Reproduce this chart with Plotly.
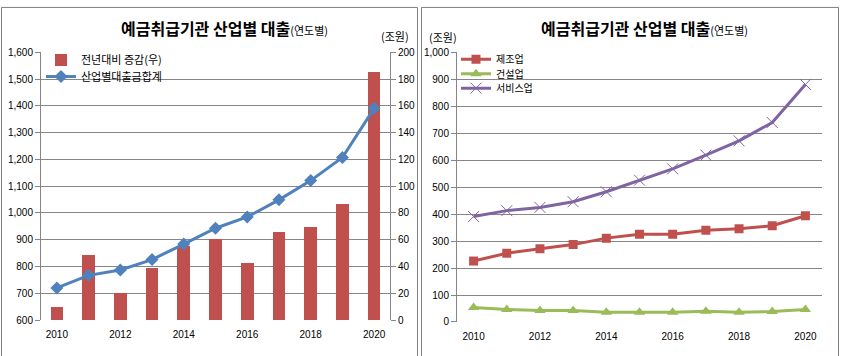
import plotly.graph_objects as go

years = list(range(2010, 2021))
xlabels = ["2010", "2012", "2014", "2016", "2018", "2020"]
xlabel_vals = [2010, 2012, 2014, 2016, 2018, 2020]

# left panel
change_yoy = [9.5, 48, 20, 38.6, 55, 60, 42, 65.8, 69.4, 86.2, 185.4]      # 전년대비 증감(우), 조원
total_loans = [720, 767, 787, 826, 884, 943, 985, 1049, 1121, 1207, 1391]  # 산업별대출금합계, 조원

# right panel
manufacturing = [226, 255, 272, 287, 311, 325, 325, 340, 346, 357, 394]
construction = [54, 46, 43, 43, 36, 36, 36, 40, 36, 39, 46]
services = [391, 413, 425, 446, 483, 526, 568, 619, 672, 740, 881]

W, H = 841, 356
GRID = "#868686"
FONT = "Liberation Sans, Noto Sans CJK KR, sans-serif"
KFONT = "Noto Sans CJK KR, sans-serif"

def px(x):
    return x / W

def py(y):
    return (H - y) / H

boundaries = [y - 0.5 for y in years] + [years[-1] + 0.5]

fig = go.Figure()

fig.add_trace(go.Bar(
    x=years, y=change_yoy, name="전년대비 증감(우)", xaxis="x", yaxis="y",
    marker=dict(color="#C0504D", line=dict(width=0)), width=0.4, legend="legend"))
fig.add_trace(go.Scatter(
    x=years, y=total_loans, name="산업별대출금합계", xaxis="x", yaxis="y2",
    mode="lines+markers", line=dict(color="#4F81BD", width=3),
    marker=dict(symbol="diamond", size=10, color="#4F81BD"), legend="legend2"))

fig.add_trace(go.Scatter(
    x=years, y=manufacturing, name="제조업", xaxis="x2", yaxis="y3",
    mode="lines+markers", line=dict(color="#C0504D", width=3),
    marker=dict(symbol="square", size=9, color="#C0504D"), legend="legend3"))
fig.add_trace(go.Scatter(
    x=years, y=construction, name="건설업", xaxis="x2", yaxis="y3",
    mode="lines+markers", line=dict(color="#9BBB59", width=3),
    marker=dict(symbol="triangle-up", size=10, color="#9BBB59"), legend="legend4"))
fig.add_trace(go.Scatter(
    x=years, y=services, name="서비스업", xaxis="x2", yaxis="y3",
    mode="lines+markers", line=dict(color="#8064A2", width=3),
    marker=dict(symbol="x-thin-open", size=11, color="#8064A2",
                line=dict(width=1, color="#8064A2")), legend="legend5"))

xcommon = dict(range=[2009.5, 2020.5], showgrid=False, zeroline=False,
               fixedrange=True)
label_axis = dict(tickvals=xlabel_vals, ticktext=xlabels, ticks="outside",
                  ticklen=5, tickcolor="rgba(0,0,0,0)", showline=False,
                  tickfont=dict(family=FONT, size=10, color="#000"))
bound_axis = dict(tickvals=boundaries, ticks="outside", ticklen=5,
                  tickcolor=GRID, showticklabels=False, showline=True,
                  linecolor=GRID, linewidth=1)

ycommon = dict(showline=True, linecolor=GRID, linewidth=1, ticks="outside",
               ticklen=5, tickcolor=GRID, zeroline=False, fixedrange=True,
               tickfont=dict(family=FONT, size=10, color="#000"))

def legend_at(x, y, size):
    return dict(x=px(x), y=py(y), xanchor="left", yanchor="middle",
                bgcolor="rgba(0,0,0,0)", borderwidth=0,
                font=dict(family=KFONT, size=size, color="#000"),
                itemwidth=30, tracegroupgap=0)

fig.update_layout(
    width=W, height=H,
    margin=dict(l=0, r=0, t=0, b=0),
    paper_bgcolor="white", plot_bgcolor="rgba(0,0,0,0)",
    showlegend=True,
    xaxis=dict(domain=[px(41), px(390)], anchor="y", **xcommon, **label_axis),
    xaxis3=dict(overlaying="x", anchor="y", **xcommon, **bound_axis),
    yaxis=dict(domain=[py(325), py(48)], anchor="x", side="right",
               range=[0, 200], dtick=20, showgrid=True, gridcolor=GRID,
               gridwidth=1, **ycommon),
    yaxis2=dict(overlaying="y", anchor="x", side="left", range=[600, 1600],
                dtick=100, tickformat=",d", showgrid=False, **ycommon),
    xaxis2=dict(domain=[px(457), px(822)], anchor="y3", **xcommon, **label_axis),
    xaxis4=dict(overlaying="x2", anchor="y3", **xcommon, **bound_axis),
    yaxis3=dict(domain=[py(327), py(48)], anchor="x2", side="left",
                range=[0, 1000], dtick=100, tickformat=",d", showgrid=True,
                gridcolor=GRID, gridwidth=1, **ycommon),
    legend=legend_at(41, 56, 11),
    legend2=legend_at(41, 73, 11),
    legend3=legend_at(456, 55, 10),
    legend4=legend_at(456, 70, 10),
    legend5=legend_at(456, 85, 10),
    bargap=0,
)

title_txt = ("<b>예금취급기관 산업별 대출</b>"
             "<span style='font-size:11px'>(연도별)</span>")
annotations = [
    dict(text=title_txt, x=px(224), y=py(23), xref="paper", yref="paper",
         xanchor="center", yanchor="middle", showarrow=False,
         font=dict(family=KFONT, size=16, color="#000")),
    dict(text=title_txt, x=px(644), y=py(23), xref="paper", yref="paper",
         xanchor="center", yanchor="middle", showarrow=False,
         font=dict(family=KFONT, size=16, color="#000")),
    dict(text="(조원)", x=px(395), y=py(31), xref="paper", yref="paper",
         xanchor="center", yanchor="middle", showarrow=False,
         font=dict(family=KFONT, size=11, color="#000")),
    dict(text="(조원)", x=px(443), y=py(32), xref="paper", yref="paper",
         xanchor="center", yanchor="middle", showarrow=False,
         font=dict(family=KFONT, size=11, color="#000")),
]
fig.update_layout(annotations=annotations)

shapes = [
    dict(type="rect", xref="paper", yref="paper", x0=px(1.5), x1=px(417.5),
         y0=py(400), y1=py(1.5), line=dict(color="#7f7f7f", width=1),
         fillcolor="rgba(0,0,0,0)", layer="below"),
    dict(type="rect", xref="paper", yref="paper", x0=px(421.5), x1=px(838.5),
         y0=py(400), y1=py(1.5), line=dict(color="#7f7f7f", width=1),
         fillcolor="rgba(0,0,0,0)", layer="below"),
]
fig.update_layout(shapes=shapes)

fig.write_html(
    "out.html",
    config={"displayModeBar": False},
    post_script="document.body.style.margin='0';document.body.style.overflow='hidden';",
)
